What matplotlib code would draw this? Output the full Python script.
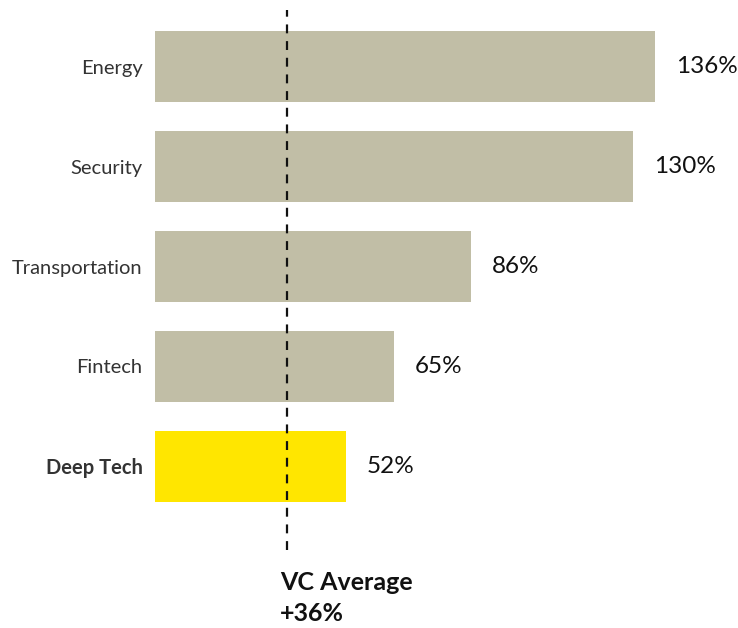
import matplotlib.pyplot as plt
import matplotlib.transforms as mtransforms

categories = ["Energy", "Security", "Transportation", "Fintech", "Deep Tech"]
growth = [136, 130, 86, 65, 52]
vc_average = 36

plt.rcParams['font.family'] = ['Lato', 'DejaVu Sans']

fig = plt.figure(figsize=(7.38, 6.28), dpi=100)
# axes spans x 155..738 px, y 10..550 px
ax = fig.add_axes([155 / 738, (628 - 550) / 628, (738 - 155) / 738, 540 / 628])

colors = ["#c1bea6"] * 4 + ["#ffe600"]
y = list(range(len(categories)))
ax.barh(y, growth, height=0.71, color=colors)

px_per_unit = 500 / 136
ax.set_xlim(0, (738 - 155) / px_per_unit)
ax.set_ylim(4.84, -0.57)

ax.axvline(vc_average, color="#111111", linestyle=(0, (4, 3.5)), linewidth=1.6)

for yi, v in zip(y, growth):
    ax.annotate(f"{v}%", (v, yi), xytext=(15, 0), textcoords="offset points",
                va="center", ha="left", fontsize=17.5, color="#111111")

ax.set_yticks(y)
ax.set_yticklabels(categories, fontsize=14.5, color="#333333")
for lbl in ax.get_yticklabels():
    if lbl.get_text() == "Deep Tech":
        lbl.set_fontweight("bold")
ax.tick_params(axis="y", length=0, pad=9)
ax.set_xticks([])
for s in ax.spines.values():
    s.set_visible(False)

trans = mtransforms.blended_transform_factory(ax.transData, ax.transAxes)
ax.text(vc_average - 2, -0.038, "VC Average\n+36%", transform=trans, ha="left", va="top",
        fontsize=18, fontweight="bold", color="#111111", linespacing=1.45)

fig.savefig("out.png", dpi=100)
